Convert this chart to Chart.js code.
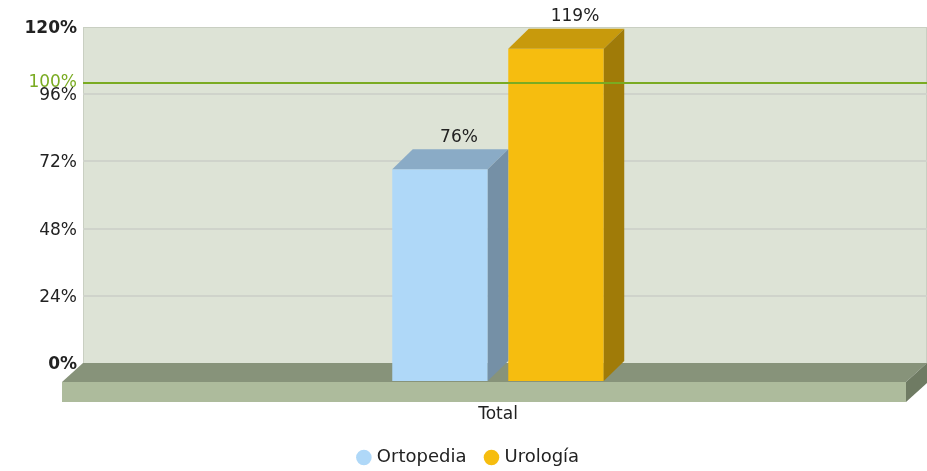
<!DOCTYPE html>
<html>
<head>
<meta charset="utf-8">
<script src="https://cdn.jsdelivr.net/npm/chart.js@4.4.1/dist/chart.umd.min.js"></script>
<style>
  html, body { margin:0; padding:0; background:#fff; }
  #wrap { width:927px; height:471px; }
</style>
</head>
<body>
<div id="wrap"><canvas id="chart"></canvas></div>
<script>
// datos del gráfico
const categories = ['Total'];
const seriesNames = ['Ortopedia', 'Urología'];
const ortopediaValues = [76];
const urologiaValues = [119];
const yTicks = [0, 24, 48, 72, 96, 120];
const targetValue = 100;
const targetLabel = '100%';

const palette = {
    ortopedia: { front:'#afd8f8', top:'#8aabc6', side:'#7590a6' },
    urologia:  { front:'#f6bd0f', top:'#c89a0c', side:'#a07b08' },
    wall: '#dde3d6',
    grid: '#cfd3cb',
    floorTop: '#87937a',
    floorFront: '#adbb9c',
    floorSide: '#6f7b63',
    target: '#7aab22',
    text: '#222222'
};

const FONT = '"DejaVu Sans", Verdana, sans-serif';
// desplazamiento del plano frontal respecto a la pared del fondo
const FRONT = { dx:-7, dy:19 };
const DEPTH = { dx:20.5, dy:-20 };
const FLOOR = { dx:-21, dy:19, h:20 };

const faces = [palette.ortopedia, palette.urologia];

const scene3d = {
    id:'scene3d',
    beforeDraw(chart){
        const {ctx, chartArea:a} = chart;
        ctx.save();
        ctx.fillStyle = palette.wall;
        ctx.fillRect(a.left, a.top, a.right - a.left, a.bottom - a.top);
        ctx.strokeStyle = '#c9cfc2';
        ctx.lineWidth = 1;
        ctx.strokeRect(a.left + 0.5, a.top + 0.5, a.right - a.left - 1, a.bottom - a.top);
        ctx.restore();
    },
    beforeDatasetsDraw(chart){
        const {ctx, chartArea:a} = chart;
        const y0 = chart.scales.y.getPixelForValue(0);
        const L = a.left, R = a.right;
        ctx.save();
        // cara superior del suelo
        ctx.fillStyle = palette.floorTop;
        ctx.beginPath();
        ctx.moveTo(L, y0); ctx.lineTo(R, y0);
        ctx.lineTo(R + FLOOR.dx, y0 + FLOOR.dy); ctx.lineTo(L + FLOOR.dx, y0 + FLOOR.dy);
        ctx.closePath(); ctx.fill();
        // cara frontal
        ctx.fillStyle = palette.floorFront;
        ctx.fillRect(L + FLOOR.dx, y0 + FLOOR.dy, R - L, FLOOR.h);
        // lateral derecho
        ctx.fillStyle = palette.floorSide;
        ctx.beginPath();
        ctx.moveTo(R + FLOOR.dx, y0 + FLOOR.dy); ctx.lineTo(R, y0);
        ctx.lineTo(R, y0 + FLOOR.h); ctx.lineTo(R + FLOOR.dx, y0 + FLOOR.dy + FLOOR.h);
        ctx.closePath(); ctx.fill();
        ctx.restore();
    },
    beforeDatasetDraw(chart){
        chart.ctx.save();
        chart.ctx.translate(FRONT.dx, FRONT.dy);
    },
    afterDatasetDraw(chart, args){
        const ctx = chart.ctx;
        const f = faces[args.index];
        chart.getDatasetMeta(args.index).data.forEach(bar => {
            const l = bar.x - bar.width / 2, r = bar.x + bar.width / 2;
            const t = bar.y, b = bar.base;
            ctx.fillStyle = f.top;
            ctx.beginPath();
            ctx.moveTo(l, t); ctx.lineTo(l + DEPTH.dx, t + DEPTH.dy);
            ctx.lineTo(r + DEPTH.dx, t + DEPTH.dy); ctx.lineTo(r, t);
            ctx.closePath(); ctx.fill();
            ctx.fillStyle = f.side;
            ctx.beginPath();
            ctx.moveTo(r, t); ctx.lineTo(r + DEPTH.dx, t + DEPTH.dy);
            ctx.lineTo(r + DEPTH.dx, b + DEPTH.dy); ctx.lineTo(r, b);
            ctx.closePath(); ctx.fill();
            // etiqueta de valor
            const v = chart.data.datasets[args.index].data[0];
            ctx.fillStyle = palette.text;
            ctx.font = '17px ' + FONT;
            ctx.textAlign = 'center';
            ctx.textBaseline = 'middle';
            ctx.fillText(v + '%', bar.x + 19, t + DEPTH.dy - 12);
        });
        ctx.restore();
    },
    afterDatasetsDraw(chart){
        const {ctx, chartArea:a} = chart;
        const y = chart.scales.y.getPixelForValue(targetValue);
        ctx.save();
        ctx.strokeStyle = palette.target;
        ctx.lineWidth = 2;
        ctx.beginPath();
        ctx.moveTo(a.left, y); ctx.lineTo(a.right, y);
        ctx.stroke();
        ctx.fillStyle = palette.target;
        ctx.font = '17px ' + FONT;
        ctx.textAlign = 'right';
        ctx.textBaseline = 'middle';
        ctx.fillText(targetLabel, a.left - 6, y);
        // etiqueta de categoría
        const x = chart.scales.x.getPixelForValue(0) + FRONT.dx;
        ctx.fillStyle = palette.text;
        ctx.textAlign = 'center';
        ctx.fillText(categories[0], x, 415);
        ctx.restore();
    }
};

new Chart(document.getElementById('chart'), {
    type:'bar',
    data:{
        labels: categories,
        datasets:[
            { label: seriesNames[0], data: ortopediaValues, backgroundColor: palette.ortopedia.front, borderWidth:0, clip:false },
            { label: seriesNames[1], data: urologiaValues, backgroundColor: palette.urologia.front, borderWidth:0, clip:false }
        ]
    },
    plugins:[scene3d],
    options:{
        responsive:true,
        maintainAspectRatio:false,
        animation:false,
        categoryPercentage:0.2749,
        barPercentage:0.823,
        layout:{ padding:{ top:27, right:0, left:12, bottom:-5.5 } },
        plugins:{
            legend:{
                position:'bottom',
                labels:{ usePointStyle:true, pointStyle:'circle', boxWidth:8, boxHeight:11, padding:21, color:palette.text, font:{ family:FONT, size:18 } }
            },
            tooltip:{ enabled:false }
        },
        scales:{
            x:{
                grid:{ display:false },
                border:{ display:false },
                ticks:{ display:false },
                afterFit(scale){ scale.height = 64.5; }
            },
            y:{
                min:0, max:120,
                afterBuildTicks(scale){ scale.ticks = yTicks.map(v => ({ value:v })); },
                afterFit(scale){ scale.width = 71; },
                border:{ display:false },
                grid:{ drawTicks:false, lineWidth:2, color: c => (c.tick && (c.tick.value === 0 || c.tick.value === 120)) ? 'rgba(0,0,0,0)' : palette.grid },
                ticks:{
                    padding:6,
                    labelOffset:1.5,
                    color:palette.text,
                    font: c => ({ family:FONT, size:17, weight: (c.tick && (c.tick.value === 0 || c.tick.value === 120)) ? 'bold' : 'normal' }),
                    callback: v => v + '%'
                }
            }
        }
    }
});
</script>
</body>
</html>
